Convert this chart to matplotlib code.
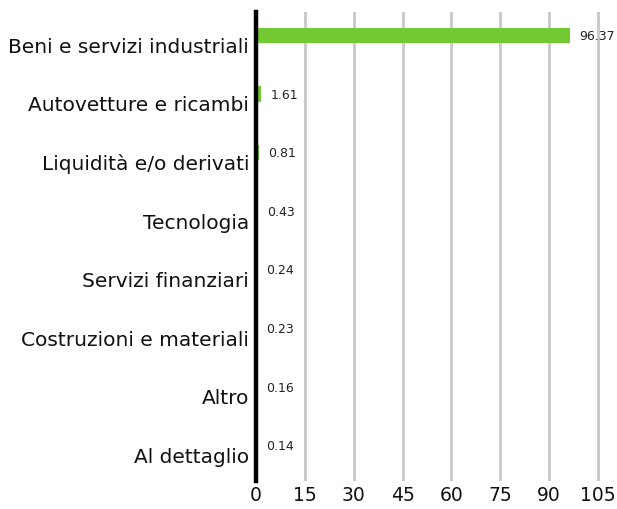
import matplotlib
matplotlib.use("Agg")
import matplotlib.pyplot as plt

categories = ["Beni e servizi industriali", "Autovetture e ricambi", "Liquidità e/o derivati",
              "Tecnologia", "Servizi finanziari", "Costruzioni e materiali", "Altro", "Al dettaglio"]
values = [96.37, 1.61, 0.81, 0.43, 0.24, 0.23, 0.16, 0.14]
xticks = [0, 15, 30, 45, 60, 75, 90, 105]

plt.rcParams['font.family'] = ['DejaVu Sans']

fig = plt.figure(figsize=(6.17, 5.10), dpi=100)
ax = fig.add_axes([0.415, 0.055, 0.9746 - 0.415, 0.9745 - 0.055])

ypos = list(range(len(categories)))
bar_y = [y - 0.1 for y in ypos]
ax.barh(bar_y, values, height=0.26, color="#72c932", zorder=3)
for y, v in zip(bar_y, values):
    ax.annotate(f"{v:.2f}", xy=(v, y), xytext=(7, 0), textcoords="offset points",
                va="center", ha="left", fontsize=9, color="#222222")

ax.set_ylim(len(categories) - 0.5, -0.5)
ax.set_xlim(0, 106)
ax.set_yticks([y + 0.05 for y in ypos])
ax.set_yticklabels(categories, fontsize=14.5, color="#111111")
ax.set_xticks(xticks)
ax.set_xticklabels([str(t) for t in xticks], fontsize=13.5, color="#111111")
ax.tick_params(axis="both", length=0)
ax.tick_params(axis="y", pad=5)
ax.tick_params(axis="x", pad=3)
ax.xaxis.grid(True, color="#c8c8c8", linewidth=2, zorder=0)
for s in ["top", "right", "bottom"]:
    ax.spines[s].set_visible(False)
ax.spines["left"].set_linewidth(3.2)
ax.spines["left"].set_color("black")
ax.spines["left"].set_zorder(4)

fig.savefig("out.png", dpi=100)
